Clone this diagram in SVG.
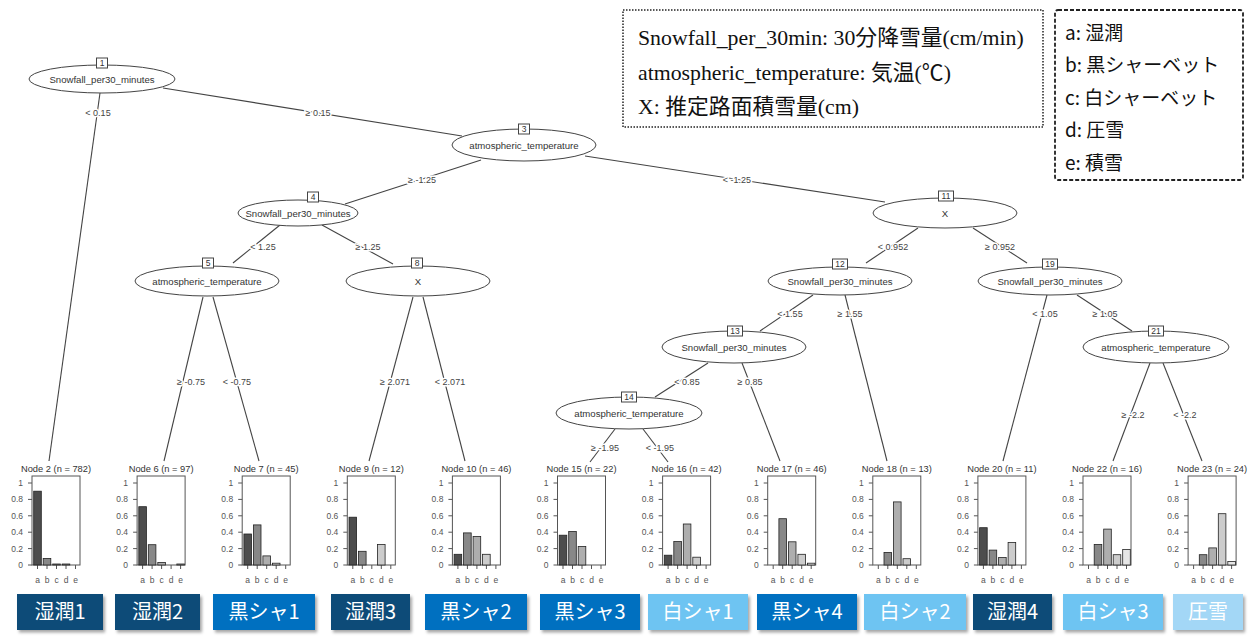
<svg xmlns="http://www.w3.org/2000/svg" xmlns:xlink="http://www.w3.org/1999/xlink" width="1255" height="637" viewBox="0 0 1255 637">
<style>
.e{fill:#fff;stroke:#444;stroke-width:1}
.nb{fill:#fff;stroke:#444;stroke-width:1}
.nt{font-family:"Liberation Sans",Arial,sans-serif;font-size:9.6px;fill:#333;text-anchor:middle}
.nn{font-family:"Liberation Sans",Arial,sans-serif;font-size:8.5px;fill:#333;text-anchor:middle}
.cn path{stroke:#444;stroke-width:1.1;fill:none}
.el{font-family:"Liberation Sans",Arial,sans-serif;font-size:9px;fill:#444;text-anchor:middle;stroke:#fff;stroke-width:3px;paint-order:stroke;stroke-linejoin:round}
.lt{font-family:"Liberation Sans",Arial,sans-serif;font-size:9.3px;fill:#333;text-anchor:middle}
.pb{fill:none;stroke:#555;stroke-width:1}
.ax{stroke:#555;stroke-width:1;fill:none}
.yl{font-family:"Liberation Sans",Arial,sans-serif;font-size:8.5px;fill:#555;text-anchor:end}
.xl{font-family:"Liberation Sans",Arial,sans-serif;font-size:8.5px;fill:#555;text-anchor:middle}
.bar{stroke:#222;stroke-width:0.8}
.b1{fill:#4d4d4d}.b2{fill:#888}.b3{fill:#aeaeae}.b4{fill:#ccc}.b5{fill:#e6e6e6}
.lg1{fill:#fff;stroke:#222;stroke-width:1.5;stroke-dasharray:1.5 1.5}
.lg2{fill:#fff;stroke:#222;stroke-width:1.8;stroke-dasharray:4 2}
.l1{font-family:"Liberation Serif","Times New Roman","Noto Sans CJK JP",serif;font-size:21.8px;fill:#111}
.l2{font-family:"Noto Sans CJK JP",sans-serif;font-size:19px;fill:#111}
.bl{font-family:"Noto Sans CJK JP",sans-serif;font-size:20px;fill:#fff;text-anchor:middle}
.d{fill:#0F4C78}.m{fill:#0070C0}.w{fill:#6EC4F2}.p{fill:#A3D7F6}
</style>
<defs>
<path id="ax" class="ax" d="M-4 483H0M-4 499.4H0M-4 515.8H0M-4 532.2H0M-4 548.6H0M-4 565H0M5.5 565v4M15 565v4M24.5 565v4M34 565v4M43.5 565v4"/>
<filter id="sh" x="-10%" y="-20%" width="130%" height="150%">
<feDropShadow dx="2" dy="2.5" stdDeviation="1.5" flood-color="#000" flood-opacity="0.35"/>
</filter>
</defs>
<rect width="1255" height="637" fill="#fff"/>

<g id="legend-vars">
<rect class="lg1" x="623" y="10" width="420" height="117"/>
<text class="l1" x="638" y="45">Snowfall_per_30min: 30分降雪量(cm/min)</text>
<text class="l1" x="638" y="80">atmospheric_temperature: 気温(℃)</text>
<text class="l1" x="638" y="114">X: 推定路面積雪量(cm)</text>
</g>
<g id="legend-classes">
<rect class="lg2" x="1055" y="10" width="188" height="170" rx="3"/>
<text class="l2" x="1065" y="40">a: 湿潤</text>
<text class="l2" x="1065" y="72">b: 黒シャーベット</text>
<text class="l2" x="1065" y="105">c: 白シャーベット</text>
<text class="l2" x="1065" y="137">d: 圧雪</text>
<text class="l2" x="1065" y="170">e: 積雪</text>
</g>

<g id="connectors" class="cn">
<path d="M100 93L49 461"/>
<path d="M163 88L462 136"/>
<path d="M481 160L345 204"/>
<path d="M585 156L885 202"/>
<path d="M280 225L233 263"/>
<path d="M322 225L393 264"/>
<path d="M203 297L164 461"/>
<path d="M213 297L259 461"/>
<path d="M413 297L369 461"/>
<path d="M423 297L465 461"/>
<path d="M918 228L866 263"/>
<path d="M973 228L1027 263"/>
<path d="M813 295L760 331"/>
<path d="M845 295L887 461"/>
<path d="M708 363L655 397"/>
<path d="M742 363L780 461"/>
<path d="M615 429L590 462"/>
<path d="M643 429L668 462"/>
<path d="M1047 295L1003 461"/>
<path d="M1077 295L1132 331"/>
<path d="M1150 363L1113 461"/>
<path d="M1163 363L1202 461"/>
<text class="el" x="98" y="116">&lt; 0.15</text>
<text class="el" x="318" y="116">≥ 0.15</text>
<text class="el" x="422" y="183">≥ -1.25</text>
<text class="el" x="737" y="183">&lt; -1.25</text>
<text class="el" x="263" y="250">&lt; 1.25</text>
<text class="el" x="368" y="250">≥ 1.25</text>
<text class="el" x="191" y="385">≥ -0.75</text>
<text class="el" x="237" y="385">&lt; -0.75</text>
<text class="el" x="395" y="385">≥ 2.071</text>
<text class="el" x="450" y="385">&lt; 2.071</text>
<text class="el" x="893" y="250">&lt; 0.952</text>
<text class="el" x="1000" y="250">≥ 0.952</text>
<text class="el" x="790" y="317">&lt; 1.55</text>
<text class="el" x="850" y="317">≥ 1.55</text>
<text class="el" x="687" y="385">&lt; 0.85</text>
<text class="el" x="750" y="385">≥ 0.85</text>
<text class="el" x="605" y="451">≥ -1.95</text>
<text class="el" x="660" y="451">&lt; -1.95</text>
<text class="el" x="1045" y="317">&lt; 1.05</text>
<text class="el" x="1105" y="317">≥ 1.05</text>
<text class="el" x="1133" y="418">≥ -2.2</text>
<text class="el" x="1185" y="418">&lt; -2.2</text>
</g>

<g id="node1"><ellipse class="e" cx="102" cy="79" rx="73" ry="14"/><rect class="nb" x="96.5" y="58" width="11" height="10"/><text class="nn" x="102" y="66">1</text><text class="nt" x="102" y="82.5">Snowfall_per30_minutes</text></g>
<g id="node3"><ellipse class="e" cx="524" cy="145" rx="72" ry="16"/><rect class="nb" x="518.5" y="124" width="11" height="10"/><text class="nn" x="524" y="132">3</text><text class="nt" x="524" y="148.5">atmospheric_temperature</text></g>
<g id="node4"><ellipse class="e" cx="298" cy="213" rx="60" ry="13"/><rect class="nb" x="307.5" y="192" width="11" height="10"/><text class="nn" x="313" y="200">4</text><text class="nt" x="298" y="216.5">Snowfall_per30_minutes</text></g>
<g id="node5"><ellipse class="e" cx="207" cy="281" rx="72" ry="15"/><rect class="nb" x="202.5" y="258" width="11" height="10"/><text class="nn" x="208" y="266">5</text><text class="nt" x="207" y="284.5">atmospheric_temperature</text></g>
<g id="node8"><ellipse class="e" cx="418" cy="281" rx="72" ry="15"/><rect class="nb" x="411.5" y="258" width="11" height="10"/><text class="nn" x="417" y="266">8</text><text class="nt" x="418" y="284.5">X</text></g>
<g id="node11"><ellipse class="e" cx="945" cy="213" rx="72" ry="15"/><rect class="nb" x="938.5" y="191" width="15" height="10"/><text class="nn" x="946" y="199">11</text><text class="nt" x="945" y="216.5">X</text></g>
<g id="node12"><ellipse class="e" cx="840" cy="281" rx="72" ry="14"/><rect class="nb" x="832.5" y="259" width="15" height="10"/><text class="nn" x="840" y="267">12</text><text class="nt" x="840" y="284.5">Snowfall_per30_minutes</text></g>
<g id="node19"><ellipse class="e" cx="1050" cy="281" rx="72" ry="14"/><rect class="nb" x="1042.5" y="259" width="15" height="10"/><text class="nn" x="1050" y="267">19</text><text class="nt" x="1050" y="284.5">Snowfall_per30_minutes</text></g>
<g id="node13"><ellipse class="e" cx="734" cy="347" rx="72" ry="16"/><rect class="nb" x="727.5" y="326" width="15" height="10"/><text class="nn" x="735" y="334">13</text><text class="nt" x="734" y="350.5">Snowfall_per30_minutes</text></g>
<g id="node14"><ellipse class="e" cx="629" cy="413" rx="73" ry="16"/><rect class="nb" x="621.5" y="392" width="15" height="10"/><text class="nn" x="629" y="400">14</text><text class="nt" x="629" y="416.5">atmospheric_temperature</text></g>
<g id="node21"><ellipse class="e" cx="1156" cy="347" rx="73" ry="16"/><rect class="nb" x="1148.5" y="326" width="15" height="10"/><text class="nn" x="1156" y="334">21</text><text class="nt" x="1156" y="350.5">atmospheric_temperature</text></g>

<g id="node2" transform="translate(32,0)">
<text class="lt" x="24" y="472">Node 2 (n = 782)</text>
<rect class="pb" x="0" y="476" width="48" height="89"/><use href="#ax" xlink:href="#ax"/>
<text class="yl"><tspan x="-9" y="486">1</tspan><tspan x="-9" y="502.4">0.8</tspan><tspan x="-9" y="518.8">0.6</tspan><tspan x="-9" y="535.2">0.4</tspan><tspan x="-9" y="551.6">0.2</tspan><tspan x="-9" y="568">0</tspan></text>
<text class="xl"><tspan x="5.5" y="583">a</tspan><tspan x="15" y="583">b</tspan><tspan x="24.5" y="583">c</tspan><tspan x="34" y="583">d</tspan><tspan x="43.5" y="583">e</tspan></text>
<rect class="bar b1" x="1.7" y="491.2" width="7.6" height="73.8"/><rect class="bar b2" x="11.2" y="558.4" width="7.6" height="6.6"/><rect class="bar b3" x="20.7" y="564" width="7.6" height="1"/><rect class="bar b4" x="30.2" y="564" width="7.6" height="1"/>
</g>
<g id="node6" transform="translate(137.1,0)">
<text class="lt" x="24" y="472">Node 6 (n = 97)</text>
<rect class="pb" x="0" y="476" width="48" height="89"/><use href="#ax" xlink:href="#ax"/>
<text class="yl"><tspan x="-9" y="486">1</tspan><tspan x="-9" y="502.4">0.8</tspan><tspan x="-9" y="518.8">0.6</tspan><tspan x="-9" y="535.2">0.4</tspan><tspan x="-9" y="551.6">0.2</tspan><tspan x="-9" y="568">0</tspan></text>
<text class="xl"><tspan x="5.5" y="583">a</tspan><tspan x="15" y="583">b</tspan><tspan x="24.5" y="583">c</tspan><tspan x="34" y="583">d</tspan><tspan x="43.5" y="583">e</tspan></text>
<rect class="bar b1" x="1.7" y="506.7" width="7.6" height="58.3"/><rect class="bar b2" x="11.2" y="544.7" width="7.6" height="20.3"/><rect class="bar b3" x="20.7" y="562.5" width="7.6" height="2.5"/><rect class="bar b5" x="39.7" y="564" width="7.6" height="1"/>
</g>
<g id="node7" transform="translate(242.2,0)">
<text class="lt" x="24" y="472">Node 7 (n = 45)</text>
<rect class="pb" x="0" y="476" width="48" height="89"/><use href="#ax" xlink:href="#ax"/>
<text class="yl"><tspan x="-9" y="486">1</tspan><tspan x="-9" y="502.4">0.8</tspan><tspan x="-9" y="518.8">0.6</tspan><tspan x="-9" y="535.2">0.4</tspan><tspan x="-9" y="551.6">0.2</tspan><tspan x="-9" y="568">0</tspan></text>
<text class="xl"><tspan x="5.5" y="583">a</tspan><tspan x="15" y="583">b</tspan><tspan x="24.5" y="583">c</tspan><tspan x="34" y="583">d</tspan><tspan x="43.5" y="583">e</tspan></text>
<rect class="bar b1" x="1.7" y="534" width="7.6" height="31"/><rect class="bar b2" x="11.2" y="524.9" width="7.6" height="40.1"/><rect class="bar b3" x="20.7" y="555.9" width="7.6" height="9.1"/><rect class="bar b4" x="30.2" y="563.2" width="7.6" height="1.8"/>
</g>
<g id="node9" transform="translate(347.3,0)">
<text class="lt" x="24" y="472">Node 9 (n = 12)</text>
<rect class="pb" x="0" y="476" width="48" height="89"/><use href="#ax" xlink:href="#ax"/>
<text class="yl"><tspan x="-9" y="486">1</tspan><tspan x="-9" y="502.4">0.8</tspan><tspan x="-9" y="518.8">0.6</tspan><tspan x="-9" y="535.2">0.4</tspan><tspan x="-9" y="551.6">0.2</tspan><tspan x="-9" y="568">0</tspan></text>
<text class="xl"><tspan x="5.5" y="583">a</tspan><tspan x="15" y="583">b</tspan><tspan x="24.5" y="583">c</tspan><tspan x="34" y="583">d</tspan><tspan x="43.5" y="583">e</tspan></text>
<rect class="bar b1" x="1.7" y="517.2" width="7.6" height="47.8"/><rect class="bar b2" x="11.2" y="551.3" width="7.6" height="13.7"/><rect class="bar b4" x="30.2" y="544.5" width="7.6" height="20.5"/>
</g>
<g id="node10" transform="translate(452.4,0)">
<text class="lt" x="24" y="472">Node 10 (n = 46)</text>
<rect class="pb" x="0" y="476" width="48" height="89"/><use href="#ax" xlink:href="#ax"/>
<text class="yl"><tspan x="-9" y="486">1</tspan><tspan x="-9" y="502.4">0.8</tspan><tspan x="-9" y="518.8">0.6</tspan><tspan x="-9" y="535.2">0.4</tspan><tspan x="-9" y="551.6">0.2</tspan><tspan x="-9" y="568">0</tspan></text>
<text class="xl"><tspan x="5.5" y="583">a</tspan><tspan x="15" y="583">b</tspan><tspan x="24.5" y="583">c</tspan><tspan x="34" y="583">d</tspan><tspan x="43.5" y="583">e</tspan></text>
<rect class="bar b1" x="1.7" y="554.3" width="7.6" height="10.7"/><rect class="bar b2" x="11.2" y="532.9" width="7.6" height="32.1"/><rect class="bar b3" x="20.7" y="536.5" width="7.6" height="28.5"/><rect class="bar b4" x="30.2" y="554.3" width="7.6" height="10.7"/>
</g>
<g id="node15" transform="translate(557.5,0)">
<text class="lt" x="24" y="472">Node 15 (n = 22)</text>
<rect class="pb" x="0" y="476" width="48" height="89"/><use href="#ax" xlink:href="#ax"/>
<text class="yl"><tspan x="-9" y="486">1</tspan><tspan x="-9" y="502.4">0.8</tspan><tspan x="-9" y="518.8">0.6</tspan><tspan x="-9" y="535.2">0.4</tspan><tspan x="-9" y="551.6">0.2</tspan><tspan x="-9" y="568">0</tspan></text>
<text class="xl"><tspan x="5.5" y="583">a</tspan><tspan x="15" y="583">b</tspan><tspan x="24.5" y="583">c</tspan><tspan x="34" y="583">d</tspan><tspan x="43.5" y="583">e</tspan></text>
<rect class="bar b1" x="1.7" y="535.2" width="7.6" height="29.8"/><rect class="bar b2" x="11.2" y="531.5" width="7.6" height="33.5"/><rect class="bar b3" x="20.7" y="546.4" width="7.6" height="18.6"/>
</g>
<g id="node16" transform="translate(662.6,0)">
<text class="lt" x="24" y="472">Node 16 (n = 42)</text>
<rect class="pb" x="0" y="476" width="48" height="89"/><use href="#ax" xlink:href="#ax"/>
<text class="yl"><tspan x="-9" y="486">1</tspan><tspan x="-9" y="502.4">0.8</tspan><tspan x="-9" y="518.8">0.6</tspan><tspan x="-9" y="535.2">0.4</tspan><tspan x="-9" y="551.6">0.2</tspan><tspan x="-9" y="568">0</tspan></text>
<text class="xl"><tspan x="5.5" y="583">a</tspan><tspan x="15" y="583">b</tspan><tspan x="24.5" y="583">c</tspan><tspan x="34" y="583">d</tspan><tspan x="43.5" y="583">e</tspan></text>
<rect class="bar b1" x="1.7" y="555.2" width="7.6" height="9.8"/><rect class="bar b2" x="11.2" y="541.6" width="7.6" height="23.4"/><rect class="bar b3" x="20.7" y="524" width="7.6" height="41"/><rect class="bar b4" x="30.2" y="557.2" width="7.6" height="7.8"/>
</g>
<g id="node17" transform="translate(767.7,0)">
<text class="lt" x="24" y="472">Node 17 (n = 46)</text>
<rect class="pb" x="0" y="476" width="48" height="89"/><use href="#ax" xlink:href="#ax"/>
<text class="yl"><tspan x="-9" y="486">1</tspan><tspan x="-9" y="502.4">0.8</tspan><tspan x="-9" y="518.8">0.6</tspan><tspan x="-9" y="535.2">0.4</tspan><tspan x="-9" y="551.6">0.2</tspan><tspan x="-9" y="568">0</tspan></text>
<text class="xl"><tspan x="5.5" y="583">a</tspan><tspan x="15" y="583">b</tspan><tspan x="24.5" y="583">c</tspan><tspan x="34" y="583">d</tspan><tspan x="43.5" y="583">e</tspan></text>
<rect class="bar b2" x="11.2" y="518.7" width="7.6" height="46.3"/><rect class="bar b3" x="20.7" y="541.8" width="7.6" height="23.2"/><rect class="bar b4" x="30.2" y="554.3" width="7.6" height="10.7"/><rect class="bar b5" x="39.7" y="563.2" width="7.6" height="1.8"/>
</g>
<g id="node18" transform="translate(872.8,0)">
<text class="lt" x="24" y="472">Node 18 (n = 13)</text>
<rect class="pb" x="0" y="476" width="48" height="89"/><use href="#ax" xlink:href="#ax"/>
<text class="yl"><tspan x="-9" y="486">1</tspan><tspan x="-9" y="502.4">0.8</tspan><tspan x="-9" y="518.8">0.6</tspan><tspan x="-9" y="535.2">0.4</tspan><tspan x="-9" y="551.6">0.2</tspan><tspan x="-9" y="568">0</tspan></text>
<text class="xl"><tspan x="5.5" y="583">a</tspan><tspan x="15" y="583">b</tspan><tspan x="24.5" y="583">c</tspan><tspan x="34" y="583">d</tspan><tspan x="43.5" y="583">e</tspan></text>
<rect class="bar b2" x="11.2" y="552.4" width="7.6" height="12.6"/><rect class="bar b3" x="20.7" y="501.9" width="7.6" height="63.1"/><rect class="bar b4" x="30.2" y="558.7" width="7.6" height="6.3"/>
</g>
<g id="node20" transform="translate(977.9,0)">
<text class="lt" x="24" y="472">Node 20 (n = 11)</text>
<rect class="pb" x="0" y="476" width="48" height="89"/><use href="#ax" xlink:href="#ax"/>
<text class="yl"><tspan x="-9" y="486">1</tspan><tspan x="-9" y="502.4">0.8</tspan><tspan x="-9" y="518.8">0.6</tspan><tspan x="-9" y="535.2">0.4</tspan><tspan x="-9" y="551.6">0.2</tspan><tspan x="-9" y="568">0</tspan></text>
<text class="xl"><tspan x="5.5" y="583">a</tspan><tspan x="15" y="583">b</tspan><tspan x="24.5" y="583">c</tspan><tspan x="34" y="583">d</tspan><tspan x="43.5" y="583">e</tspan></text>
<rect class="bar b1" x="1.7" y="527.7" width="7.6" height="37.3"/><rect class="bar b2" x="11.2" y="550.1" width="7.6" height="14.9"/><rect class="bar b3" x="20.7" y="557.5" width="7.6" height="7.5"/><rect class="bar b4" x="30.2" y="542.6" width="7.6" height="22.4"/>
</g>
<g id="node22" transform="translate(1083,0)">
<text class="lt" x="24" y="472">Node 22 (n = 16)</text>
<rect class="pb" x="0" y="476" width="48" height="89"/><use href="#ax" xlink:href="#ax"/>
<text class="yl"><tspan x="-9" y="486">1</tspan><tspan x="-9" y="502.4">0.8</tspan><tspan x="-9" y="518.8">0.6</tspan><tspan x="-9" y="535.2">0.4</tspan><tspan x="-9" y="551.6">0.2</tspan><tspan x="-9" y="568">0</tspan></text>
<text class="xl"><tspan x="5.5" y="583">a</tspan><tspan x="15" y="583">b</tspan><tspan x="24.5" y="583">c</tspan><tspan x="34" y="583">d</tspan><tspan x="43.5" y="583">e</tspan></text>
<rect class="bar b2" x="11.2" y="544.5" width="7.6" height="20.5"/><rect class="bar b3" x="20.7" y="529.1" width="7.6" height="35.9"/><rect class="bar b4" x="30.2" y="554.7" width="7.6" height="10.3"/><rect class="bar b5" x="39.7" y="549.6" width="7.6" height="15.4"/>
</g>
<g id="node23" transform="translate(1188.1,0)">
<text class="lt" x="24" y="472">Node 23 (n = 24)</text>
<rect class="pb" x="0" y="476" width="48" height="89"/><use href="#ax" xlink:href="#ax"/>
<text class="yl"><tspan x="-9" y="486">1</tspan><tspan x="-9" y="502.4">0.8</tspan><tspan x="-9" y="518.8">0.6</tspan><tspan x="-9" y="535.2">0.4</tspan><tspan x="-9" y="551.6">0.2</tspan><tspan x="-9" y="568">0</tspan></text>
<text class="xl"><tspan x="5.5" y="583">a</tspan><tspan x="15" y="583">b</tspan><tspan x="24.5" y="583">c</tspan><tspan x="34" y="583">d</tspan><tspan x="43.5" y="583">e</tspan></text>
<rect class="bar b2" x="11.2" y="554.7" width="7.6" height="10.3"/><rect class="bar b3" x="20.7" y="547.9" width="7.6" height="17.1"/><rect class="bar b4" x="30.2" y="513.7" width="7.6" height="51.3"/><rect class="bar b5" x="39.7" y="561.6" width="7.6" height="3.4"/>
</g>

<g id="class-labels">
<g id="lab1"><rect class="d" x="17" y="594" width="86" height="36" filter="url(#sh)"/><text class="bl" x="60" y="619">湿潤1</text></g>
<g id="lab2"><rect class="d" x="115" y="594" width="85" height="36" filter="url(#sh)"/><text class="bl" x="157.5" y="619">湿潤2</text></g>
<g id="lab3"><rect class="m" x="213" y="594" width="102" height="36" filter="url(#sh)"/><text class="bl" x="264" y="619">黒シャ1</text></g>
<g id="lab4"><rect class="d" x="331" y="594" width="79" height="36" filter="url(#sh)"/><text class="bl" x="370.5" y="619">湿潤3</text></g>
<g id="lab5"><rect class="m" x="425" y="594" width="102" height="36" filter="url(#sh)"/><text class="bl" x="476" y="619">黒シャ2</text></g>
<g id="lab6"><rect class="m" x="540" y="594" width="100" height="36" filter="url(#sh)"/><text class="bl" x="590" y="619">黒シャ3</text></g>
<g id="lab7"><rect class="w" x="648" y="594" width="100" height="36" filter="url(#sh)"/><text class="bl" x="698" y="619">白シャ1</text></g>
<g id="lab8"><rect class="m" x="757" y="594" width="100" height="36" filter="url(#sh)"/><text class="bl" x="807" y="619">黒シャ4</text></g>
<g id="lab9"><rect class="w" x="864" y="594" width="102" height="36" filter="url(#sh)"/><text class="bl" x="915" y="619">白シャ2</text></g>
<g id="lab10"><rect class="d" x="973" y="594" width="79" height="36" filter="url(#sh)"/><text class="bl" x="1012.5" y="619">湿潤4</text></g>
<g id="lab11"><rect class="w" x="1063" y="594" width="100" height="36" filter="url(#sh)"/><text class="bl" x="1113" y="619">白シャ3</text></g>
<g id="lab12"><rect class="p" x="1173" y="594" width="70" height="36" filter="url(#sh)"/><text class="bl" x="1208" y="619">圧雪</text></g>
</g>
</svg>
